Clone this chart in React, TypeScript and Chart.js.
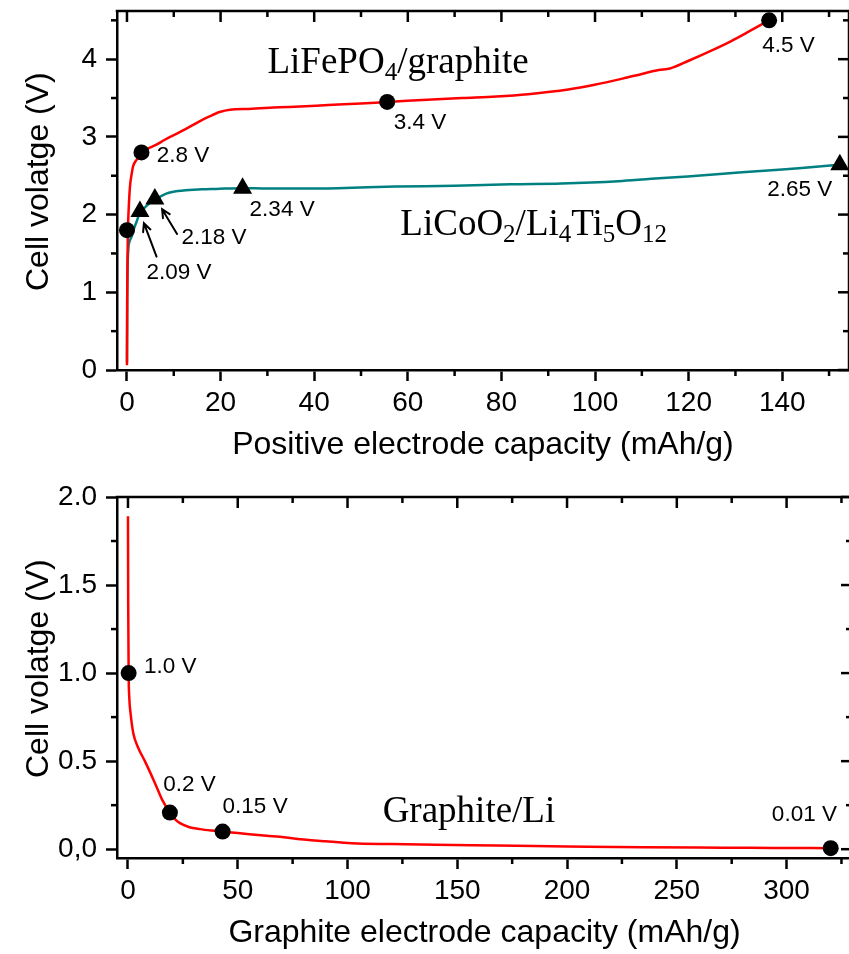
import React, { useEffect, useRef } from 'react';
import { Chart, registerables } from 'chart.js';

Chart.register(...registerables);

const SANS = '"Liberation Sans", Arial, sans-serif';
const SERIF = '"Liberation Serif", "Times New Roman", serif';

// ---------- Top chart: full cells ----------
const LFP_X = [0, 0.05, 0.12, 0.2, 0.35, 0.64, 1.0, 1.3, 2.0, 2.8, 3.1, 4.5, 6.3, 8, 9.9, 12.5, 15.5, 17.5, 19.8, 22, 26, 32.6, 37, 43, 50, 55.6, 62, 71.6, 78.9, 85.7, 94.3, 99.9, 105.9, 110, 113.6, 116, 120, 125.2, 129, 133, 137.2];
const LFP_Y = [0.06, 0.9, 1.45, 1.8, 2.05, 2.36, 2.52, 2.62, 2.70, 2.76, 2.80, 2.85, 2.90, 2.96, 3.02, 3.10, 3.20, 3.26, 3.32, 3.35, 3.36, 3.38, 3.39, 3.41, 3.43, 3.45, 3.47, 3.50, 3.52, 3.55, 3.61, 3.67, 3.75, 3.81, 3.86, 3.88, 3.98, 4.12, 4.23, 4.36, 4.50];

const LTO_X = [0, 0.05, 0.28, 0.6, 1.0, 1.5, 2.06, 2.77, 3.8, 4.9, 5.96, 8.4, 12, 16, 19, 24.7, 30, 36.8, 45, 57.4, 70, 82, 92.8, 105, 112, 119.8, 126, 133, 140, 146, 152.3];
const LTO_Y = [0.1, 0.9, 1.54, 1.66, 1.72, 1.82, 1.91, 2.03, 2.09, 2.15, 2.19, 2.27, 2.31, 2.325, 2.33, 2.34, 2.335, 2.335, 2.34, 2.36, 2.37, 2.39, 2.40, 2.43, 2.46, 2.49, 2.52, 2.55, 2.58, 2.61, 2.64];

const LFP_MARK_X = [0, 3.1, 55.6, 137.2];
const LFP_MARK_Y = [1.8, 2.8, 3.45, 4.5];
const LTO_MARK_X = [2.77, 5.96, 24.7, 152.3];
const LTO_MARK_Y = [2.04, 2.2, 2.34, 2.64];

const TOP_X_TICKS = [0, 20, 40, 60, 80, 100, 120, 140];
const TOP_X_MINOR = [10, 30, 50, 70, 90, 110, 130, 150];
const TOP_Y_TICKS = [0, 1, 2, 3, 4];
const TOP_Y_MINOR = [0.5, 1.5, 2.5, 3.5, 4.5];

const TOP_NOTE_TEXT = ['2.8 V', '3.4 V', '4.5 V', '2.34 V', '2.18 V', '2.09 V', '2.65 V'];
const TOP_NOTE_X = [6.38, 57.0, 135.7, 26.2, 11.64, 4.15, 136.8];
const TOP_NOTE_Y = [2.755, 3.186, 4.171, 2.066, 1.695, 1.245, 2.317];

const TOP_ARROW_FROM_X = [10.7, 6.32];
const TOP_ARROW_FROM_Y = [1.751, 1.459];
const TOP_ARROW_TO_X = [7.51, 3.62];
const TOP_ARROW_TO_Y = [2.069, 1.889];

const LFP_NAME: [string, boolean][] = [['LiFePO', false], ['4', true], ['/graphite', false]];
const LTO_NAME: [string, boolean][] = [['LiCoO', false], ['2', true], ['/Li', false], ['4', true], ['Ti', false], ['5', true], ['O', false], ['12', true]];
const TOP_NAME_X = [30.02, 58.4];
const TOP_NAME_Y = [3.82, 1.738];

// ---------- Bottom chart: graphite half cell ----------
const GR_X = [0, 0.1, 0.3, 0.6, 1.2, 2.4, 4.5, 7.7, 12.3, 15.6, 19.1, 21.5, 23.7, 28, 32.8, 38, 43.1, 50, 63.2, 69.2, 78.4, 90, 102, 120, 140, 168, 200, 234.5, 260, 284, 300, 320.1];
const GR_Y = [1.89, 1.4, 1.0, 0.86, 0.77, 0.66, 0.58, 0.50, 0.375, 0.28, 0.208, 0.17, 0.148, 0.125, 0.114, 0.106, 0.10, 0.092, 0.076, 0.07, 0.057, 0.045, 0.034, 0.029, 0.025, 0.021, 0.016, 0.011, 0.009, 0.008, 0.007, 0.006];

const GR_MARK_X = [0.3, 19.1, 43.1, 320.1];
const GR_MARK_Y = [1.0, 0.208, 0.10, 0.006];

const BOT_X_TICKS = [0, 50, 100, 150, 200, 250, 300];
const BOT_X_MINOR = [25, 75, 125, 175, 225, 275, 325];
const BOT_Y_TICKS = [0, 0.5, 1.0, 1.5, 2.0];
const BOT_Y_LABELS = ['0,0', '0.5', '1.0', '1.5', '2.0'];
const BOT_Y_MINOR = [0.25, 0.75, 1.25, 1.75];

const BOT_NOTE_TEXT = ['1.0 V', '0.2 V', '0.15 V', '0.01 V'];
const BOT_NOTE_X = [7.29, 16.1, 43.1, 293.3];
const BOT_NOTE_Y = [1.037, 0.365, 0.240, 0.196];

const GR_NAME: [string, boolean][] = [['Graphite/Li', false]];
const BOT_NAME_X = [116.0];
const BOT_NAME_Y = [0.157];

// ---------- styling ----------
const AXIS_W = 2.5;
const MAJOR_LEN = 11;
const MINOR_LEN = 6;
const TICK_FONT = 28;
const TITLE_FONT = 32;
const NOTE_FONT = 22.5;
const NAME_FONT = 37;
const SUB_FONT = 25;
const SUB_DY = 7;

const pts = (xs: number[], ys: number[]) => xs.map((x, i) => ({ x, y: ys[i] }));

function framePlugin(xMinor: number[], yMinor: number[]) {
  return {
    id: 'frame',
    afterDraw(chart: any) {
      const { ctx, chartArea: a, scales } = chart;
      const x = scales.x;
      const y = scales.y;
      ctx.save();
      ctx.strokeStyle = '#000';
      ctx.lineWidth = AXIS_W;
      ctx.beginPath();
      ctx.moveTo(a.left - AXIS_W / 2, a.top);
      ctx.lineTo(a.right, a.top);
      ctx.lineTo(a.right, a.bottom);
      ctx.stroke();
      const seg = (x1: number, y1: number, x2: number, y2: number) => {
        ctx.beginPath();
        ctx.moveTo(x1, y1);
        ctx.lineTo(x2, y2);
        ctx.stroke();
      };
      x.ticks.forEach((t: any) => {
        const px = x.getPixelForValue(t.value);
        seg(px, a.top, px, a.top + MAJOR_LEN);
      });
      xMinor.forEach((v) => {
        const px = x.getPixelForValue(v);
        seg(px, a.bottom, px, a.bottom + MINOR_LEN);
        seg(px, a.top, px, a.top + MINOR_LEN);
      });
      y.ticks.forEach((t: any) => {
        const py = y.getPixelForValue(t.value);
        seg(a.right, py, a.right - MAJOR_LEN, py);
      });
      yMinor.forEach((v) => {
        const py = y.getPixelForValue(v);
        seg(a.left, py, a.left - MINOR_LEN, py);
        seg(a.right, py, a.right - MINOR_LEN, py);
      });
      ctx.restore();
    },
  };
}

function notesPlugin(opts: {
  texts: string[]; xs: number[]; ys: number[];
  names: [string, boolean][][]; nameX: number[]; nameY: number[];
  arrows?: { fx: number[]; fy: number[]; tx: number[]; ty: number[] };
}) {
  return {
    id: 'notes',
    afterDraw(chart: any) {
      const { ctx, scales } = chart;
      const x = scales.x;
      const y = scales.y;
      ctx.save();
      ctx.fillStyle = '#000';
      ctx.font = `${NOTE_FONT}px ${SANS}`;
      ctx.textAlign = 'left';
      ctx.textBaseline = 'middle';
      opts.texts.forEach((t, i) => {
        ctx.fillText(t, x.getPixelForValue(opts.xs[i]), y.getPixelForValue(opts.ys[i]));
      });
      ctx.textBaseline = 'alphabetic';
      opts.names.forEach((segs, i) => {
        let cx = x.getPixelForValue(opts.nameX[i]);
        const by = y.getPixelForValue(opts.nameY[i]);
        segs.forEach(([t, sub]) => {
          ctx.font = `${sub ? SUB_FONT : NAME_FONT}px ${SERIF}`;
          ctx.fillText(t, cx, by + (sub ? SUB_DY : 0));
          cx += ctx.measureText(t).width;
        });
      });
      if (opts.arrows) {
        const ar = opts.arrows;
        ctx.strokeStyle = '#000';
        ctx.lineWidth = 2;
        ctx.lineCap = 'round';
        ar.fx.forEach((_, i) => {
          const x1 = x.getPixelForValue(ar.fx[i]);
          const y1 = y.getPixelForValue(ar.fy[i]);
          const x2 = x.getPixelForValue(ar.tx[i]);
          const y2 = y.getPixelForValue(ar.ty[i]);
          const ang = Math.atan2(y2 - y1, x2 - x1);
          const hl = 9;
          ctx.beginPath();
          ctx.moveTo(x1, y1);
          ctx.lineTo(x2, y2);
          ctx.moveTo(x2 - hl * Math.cos(ang - 0.45), y2 - hl * Math.sin(ang - 0.45));
          ctx.lineTo(x2, y2);
          ctx.lineTo(x2 - hl * Math.cos(ang + 0.45), y2 - hl * Math.sin(ang + 0.45));
          ctx.stroke();
        });
      }
      ctx.restore();
    },
  };
}

function axis(min: number, max: number, ticks: number[], title: string, isX: boolean, labels?: string[]) {
  return {
    type: 'linear',
    position: isX ? 'bottom' : 'left',
    min,
    max,
    afterBuildTicks: (s: any) => {
      s.ticks = ticks.map((v) => ({ value: v }));
    },
    afterFit: (s: any) => {
      if (isX) s.height = 94;
      else s.width = 97;
      s.paddingTop = 0;
      s.paddingBottom = 0;
      s.paddingLeft = 0;
      s.paddingRight = 0;
    },
    grid: {
      display: true,
      drawOnChartArea: false,
      drawTicks: true,
      tickLength: MAJOR_LEN,
      tickWidth: AXIS_W,
      tickColor: '#000',
      color: '#000',
    },
    border: { display: true, color: '#000', width: AXIS_W },
    ticks: {
      color: '#000',
      font: { family: SANS, size: TICK_FONT },
      padding: isX ? 5 : 9,
      autoSkip: false,
      maxRotation: 0,
      callback: (v: number, i: number) => (labels ? labels[i] : String(v)),
    },
    title: {
      display: true,
      text: title,
      color: '#000',
      font: { family: SANS, size: TITLE_FONT },
      padding: 0,
    },
  };
}

function baseOptions(xAxis: any, yAxis: any) {
  return {
    responsive: false,
    animation: false,
    devicePixelRatio: 1,
    layout: { padding: { top: 11, right: 8, left: 20, bottom: 0 } },
    plugins: { legend: { display: false }, tooltip: { enabled: false }, title: { display: false } },
    events: [],
    scales: { x: xAxis, y: yAxis },
  };
}

export default function App() {
  const topRef = useRef<HTMLCanvasElement>(null);
  const botRef = useRef<HTMLCanvasElement>(null);

  useEffect(() => {
    const top = new Chart(topRef.current as HTMLCanvasElement, {
      type: 'scatter',
      data: {
        datasets: [
          {
            data: pts(LFP_MARK_X, LFP_MARK_Y),
            pointStyle: 'circle',
            pointRadius: 8,
            pointBackgroundColor: '#000',
            pointBorderWidth: 0,
            showLine: false,
            clip: false,
          },
          {
            data: pts(LTO_MARK_X, LTO_MARK_Y),
            pointStyle: 'triangle',
            pointRadius: 11,
            pointBackgroundColor: '#000',
            pointBorderWidth: 0,
            showLine: false,
            clip: false,
          },
          {
            data: pts(LFP_X, LFP_Y),
            showLine: true,
            borderColor: '#ff0000',
            borderWidth: 2.5,
            pointRadius: 0,
            cubicInterpolationMode: 'monotone',
          },
          {
            data: pts(LTO_X, LTO_Y),
            showLine: true,
            borderColor: '#008080',
            borderWidth: 2.5,
            pointRadius: 0,
            cubicInterpolationMode: 'monotone',
          },
        ],
      } as any,
      options: baseOptions(
        axis(-2.13, 154.26, TOP_X_TICKS, 'Positive electrode capacity (mAh/g)', true),
        axis(0, 4.62, TOP_Y_TICKS, '  Cell volatge (V)', false)
      ) as any,
      plugins: [
        framePlugin(TOP_X_MINOR, TOP_Y_MINOR),
        notesPlugin({
          texts: TOP_NOTE_TEXT, xs: TOP_NOTE_X, ys: TOP_NOTE_Y,
          names: [LFP_NAME, LTO_NAME], nameX: TOP_NAME_X, nameY: TOP_NAME_Y,
          arrows: { fx: TOP_ARROW_FROM_X, fy: TOP_ARROW_FROM_Y, tx: TOP_ARROW_TO_X, ty: TOP_ARROW_TO_Y },
        }),
      ],
    });

    const bot = new Chart(botRef.current as HTMLCanvasElement, {
      type: 'scatter',
      data: {
        datasets: [
          {
            data: pts(GR_MARK_X, GR_MARK_Y),
            pointStyle: 'circle',
            pointRadius: 8,
            pointBackgroundColor: '#000',
            pointBorderWidth: 0,
            showLine: false,
            clip: false,
          },
          {
            data: pts(GR_X, GR_Y),
            showLine: true,
            borderColor: '#ff0000',
            borderWidth: 2.5,
            pointRadius: 0,
            cubicInterpolationMode: 'monotone',
          },
        ],
      } as any,
      options: baseOptions(
        axis(-5.0, 329.8, BOT_X_TICKS, 'Graphite electrode capacity (mAh/g)', true),
        axis(-0.05, 2.0, BOT_Y_TICKS, '  Cell volatge (V)', false, BOT_Y_LABELS)
      ) as any,
      plugins: [
        framePlugin(BOT_X_MINOR, BOT_Y_MINOR),
        notesPlugin({
          texts: BOT_NOTE_TEXT, xs: BOT_NOTE_X, ys: BOT_NOTE_Y,
          names: [GR_NAME], nameX: BOT_NAME_X, nameY: BOT_NAME_Y,
        }),
      ],
    });

    return () => {
      top.destroy();
      bot.destroy();
    };
  }, []);

  return (
    <div style={{ position: 'absolute', left: 0, top: 0, width: 849, height: 954, overflow: 'hidden', background: '#fff' }}>
      <canvas ref={topRef} width={860} height={464} style={{ position: 'absolute', left: 0, top: 0 }} />
      <canvas ref={botRef} width={860} height={466} style={{ position: 'absolute', left: 0, top: 486 }} />
    </div>
  );
}
